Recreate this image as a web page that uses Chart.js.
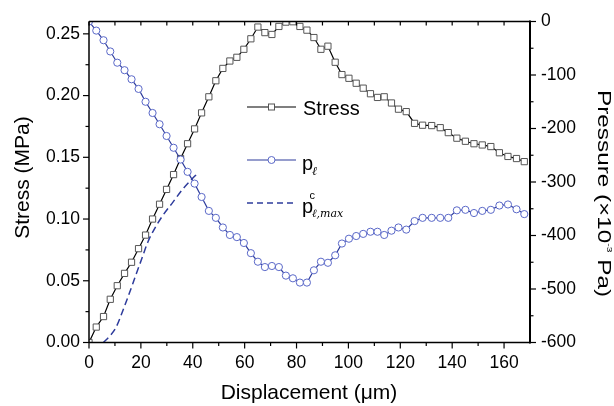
<!DOCTYPE html>
<html><head><meta charset="utf-8">
<script src="https://cdn.jsdelivr.net/npm/chart.js@4.4.1/dist/chart.umd.min.js"></script>
<style>html,body{margin:0;padding:0;background:#fff;}canvas{display:block;}</style>
</head><body>
<canvas id="c" width="614" height="406"></canvas>
<script>
// ---- data ----
const displacement = [0,2.8,5.6,8.2,10.9,13.7,16.4,19.1,21.8,24.5,27.2,29.9,32.6,35.3,38.0,40.7,43.4,46.2,48.9,51.6,54.3,57.0,59.7,62.4,65.1,67.8,70.5,73.2,75.9,78.6,81.3,84.0,86.7,89.4,92.1,94.9,97.5,100.2,103.0,105.7,108.5,111.2,113.8,116.6,119.3,122.3,125.5,128.6,132.1,135.4,138.5,141.8,145.1,148.4,151.6,154.9,158.2,161.5,164.8,167.8];
const stress = [0.000,0.0125,0.021,0.035,0.046,0.056,0.065,0.076,0.087,0.100,0.112,0.124,0.136,0.149,0.161,0.173,0.186,0.199,0.212,0.222,0.228,0.231,0.2375,0.246,0.2555,0.251,0.2495,0.256,0.2595,0.2598,0.256,0.253,0.247,0.2375,0.240,0.227,0.217,0.214,0.210,0.206,0.2015,0.1985,0.199,0.194,0.189,0.187,0.1775,0.176,0.1757,0.174,0.170,0.1655,0.163,0.161,0.160,0.1587,0.1537,0.1507,0.149,0.1465];
const pressureL = [0,-17,-35,-56,-77,-91,-108,-126,-150,-171,-192,-214,-236,-258,-281,-303,-328,-354,-367,-385,-399,-403,-414,-433,-449,-459,-457,-459,-475,-480,-488,-488,-465,-449,-451,-437,-415,-406,-401,-397,-393,-393,-399,-391,-385,-389,-373,-367,-367,-367,-367,-353,-352,-358,-354,-352,-344,-342,-351,-360];
const criticalX = [5.5,8,10.4,13,15.4,17.9,20.3,22.7,25.3,28.4,32.3,36.2,39.2,41.6];
const criticalP = [-600,-588,-572,-541,-510,-476,-444,-412,-387,-363,-338,-313,-297,-285];
const xTickValues = [0,20,40,60,80,100,120,140,160];
const xMinorValues = [10,30,50,70,90,110,130,150];
const stressTickValues = [0,0.05,0.10,0.15,0.20,0.25];
const stressMinorValues = [0.025,0.075,0.125,0.175,0.225];
const pressureTickValues = [-600,-500,-400,-300,-200,-100,0];
const pressureMinorValues = [-550,-450,-350,-250,-150,-50];

const BLUE = '#2e3c9c';
const BLUE_MK = '#5a68c8';
const FONT = '"Liberation Sans", Arial, sans-serif';

const framePlugin = {
  id: 'frame',
  afterDatasetsDraw(chart) {
    const {ctx, chartArea: a, scales} = chart;
    ctx.save();
    ctx.strokeStyle = '#000';
    const seg = (x1,y1,x2,y2)=>{ctx.beginPath();ctx.moveTo(x1,y1);ctx.lineTo(x2,y2);ctx.stroke();};
    ctx.lineWidth = 1.2;
    xTickValues.forEach(v=>{const p=scales.x.getPixelForValue(v); seg(p,a.bottom,p,a.bottom+6); seg(p,a.top,p,a.top+4);});
    xMinorValues.forEach(v=>{const p=scales.x.getPixelForValue(v); seg(p,a.bottom,p,a.bottom+3.5); seg(p,a.top,p,a.top+4);});
    stressTickValues.forEach(v=>{const p=scales.y.getPixelForValue(v); seg(a.left-6,p,a.left,p);});
    stressMinorValues.forEach(v=>{const p=scales.y.getPixelForValue(v); seg(a.left-3.5,p,a.left,p);});
    pressureTickValues.forEach(v=>{const p=scales.y2.getPixelForValue(v); seg(a.right,p,a.right+6,p);});
    pressureMinorValues.forEach(v=>{const p=scales.y2.getPixelForValue(v); seg(a.right,p,a.right+3.5,p);});
    ctx.lineWidth = 1.5;
    seg(a.left,a.top,a.right,a.top);
    seg(a.left,a.top,a.left,a.bottom);
    seg(a.left,a.bottom,a.right,a.bottom);
    ctx.lineWidth = 2;
    seg(a.right,a.top-1,a.right,a.bottom+1);
    ctx.restore();
  },
  afterDraw(chart) {
    const ctx = chart.ctx;
    ctx.save();
    ctx.fillStyle = '#000';
    // axis titles
    ctx.font = '21px ' + FONT;
    ctx.textAlign = 'center'; ctx.textBaseline = 'alphabetic';
    ctx.save(); ctx.translate(29, 177.5); ctx.rotate(-Math.PI/2); ctx.fillText('Stress (MPa)', 0, 0); ctx.restore();
    ctx.fillText('Displacement (\u03bcm)', 309, 399);
    // right title (stretched along its length like the reference)
    ctx.save();
    ctx.translate(598, 193.5); ctx.rotate(Math.PI/2);
    const f1 = '19px ' + FONT, f2 = '8px ' + FONT;
    const t1 = 'Pressure (\u00d710', t2 = '-3', t3 = ' Pa)';
    ctx.font = f1; const w1 = ctx.measureText(t1).width, w3 = ctx.measureText(t3).width;
    ctx.font = f2; const w2 = ctx.measureText(t2).width;
    const total = w1 + w2 + w3;
    const sx = 207 / total;
    ctx.scale(sx, 1);
    ctx.textAlign = 'left';
    let x0 = -total/2;
    ctx.font = f1; ctx.fillText(t1, x0, 0);
    ctx.font = f2; ctx.fillText(t2, x0 + w1, -9);
    ctx.font = f1; ctx.fillText(t3, x0 + w1 + w2, 0);
    ctx.restore();

    // legend
    const line = (y, color, w, dash) => { ctx.save(); ctx.strokeStyle=color; ctx.lineWidth=w; ctx.setLineDash(dash); ctx.beginPath(); ctx.moveTo(247,y); ctx.lineTo(296,y); ctx.stroke(); ctx.restore(); };
    line(107, '#000', 1.2, []);
    ctx.save(); ctx.fillStyle='#fff'; ctx.strokeStyle='#555'; ctx.lineWidth=1;
    ctx.fillRect(268.5,104,6,6); ctx.strokeRect(268.5,104,6,6); ctx.restore();
    line(160, BLUE, 1.2, []);
    ctx.save(); ctx.fillStyle='#fff'; ctx.strokeStyle=BLUE_MK; ctx.lineWidth=1;
    ctx.beginPath(); ctx.arc(271.5,160,3.5,0,Math.PI*2); ctx.fill(); ctx.stroke(); ctx.restore();
    line(203, BLUE, 1.5, [6,4]);
    ctx.textAlign = 'left'; ctx.textBaseline = 'alphabetic'; ctx.fillStyle = '#000';
    ctx.font = '20px ' + FONT;
    ctx.fillText('Stress', 303, 115);
    ctx.fillText('p', 302, 170);
    ctx.fillText('p', 302, 213);
    ctx.font = 'italic 12px "DejaVu Serif", serif';
    ctx.fillText('\u2113', 312, 175);
    ctx.font = '11px ' + FONT;
    ctx.fillText('c', 309.5, 199);
    ctx.font = 'italic 11px "DejaVu Serif", serif';
    ctx.fillText('\u2113,max', 312, 217);
    ctx.restore();
  }
};

const tickFont = {family: FONT, size: 17.5};
new Chart(document.getElementById('c'), {
  type: 'line',
  data: {
    datasets: [
      {
        label: 'p_l', yAxisID: 'y2', order: 0,
        data: displacement.map((x,i)=>({x, y: pressureL[i]})),
        borderColor: BLUE, borderWidth: 1.2, pointStyle: 'circle', pointRadius: 3.6,
        pointBorderColor: BLUE_MK, pointBackgroundColor: '#fff', pointBorderWidth: 1, tension: 0
      },
      {
        label: 'p_lmax', yAxisID: 'y2', order: 1,
        data: criticalX.map((x,i)=>({x, y: criticalP[i]})),
        borderColor: BLUE, borderWidth: 1.5, borderDash: [7,4], pointRadius: 0, cubicInterpolationMode: 'monotone'
      },
      {
        label: 'Stress', yAxisID: 'y', order: 2,
        data: displacement.map((x,i)=>({x, y: stress[i]})),
        borderColor: '#000', borderWidth: 1.2, pointStyle: 'rect', pointRadius: 4.4,
        pointBorderColor: '#555', pointBackgroundColor: '#fff', pointBorderWidth: 1, tension: 0
      }
    ]
  },
  options: {
    responsive: false, animation: false, devicePixelRatio: 1,
    layout: {padding: {top: 14, left: 0, right: 0, bottom: 0}},
    plugins: {legend: {display: false}, tooltip: {enabled: false}},
    scales: {
      x: {
        type: 'linear', position: 'bottom', min: 0, max: 170,
        grid: {display: false, drawTicks: false}, border: {display: false},
        afterBuildTicks: s => { s.ticks = xTickValues.map(v=>({value:v})); },
        afterFit: s => { s.height = 63.5; },
        ticks: {font: tickFont, color: '#000', padding: 10, maxRotation: 0, callback: v => String(v)}
      },
      y: {
        type: 'linear', position: 'left', min: 0, max: 0.26,
        grid: {display: false, drawTicks: false}, border: {display: false},
        afterBuildTicks: s => { s.ticks = stressTickValues.map(v=>({value:v})); },
        afterFit: s => { s.width = 89; },
        ticks: {font: tickFont, color: '#000', padding: 9, callback: v => Number(v).toFixed(2)}
      },
      y2: {
        type: 'linear', position: 'right', min: -600, max: 0,
        grid: {display: false, drawTicks: false}, border: {display: false},
        afterBuildTicks: s => { s.ticks = pressureTickValues.map(v=>({value:v})); },
        afterFit: s => { s.width = 84; },
        ticks: {font: tickFont, color: '#000', padding: 11, callback: v => String(v)}
      }
    }
  },
  plugins: [framePlugin]
});
</script>
</body></html>
